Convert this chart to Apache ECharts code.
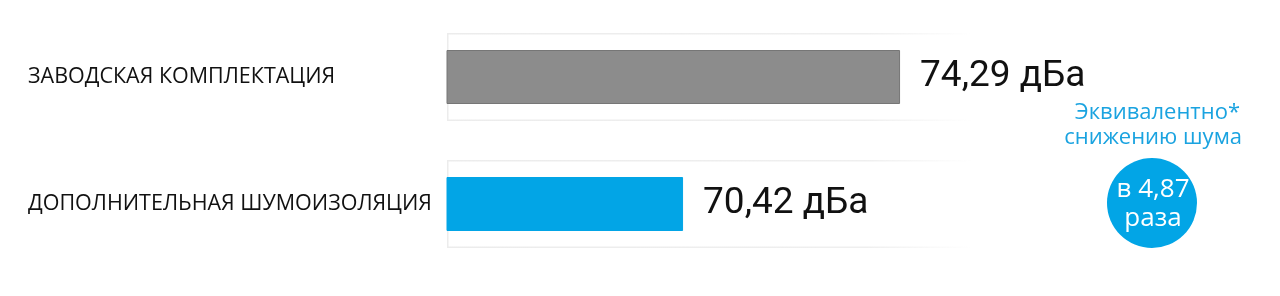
<!DOCTYPE html>
<html>
<head>
<meta charset="utf-8">
<script src="https://cdn.jsdelivr.net/npm/echarts@6/dist/echarts.min.js"></script>
<style>
html,body{margin:0;padding:0;background:#fff;}
#c{width:1280px;height:296px;}
</style>
</head>
<body>
<div id="c"></div>
<script>
const categories = ['ЗАВОДСКАЯ КОМПЛЕКТАЦИЯ', 'ДОПОЛНИТЕЛЬНАЯ ШУМОИЗОЛЯЦИЯ'];
const values = [74.29, 70.42];
const valueLabels = ['74,29 дБа', '70,42 дБа'];
const barColors = ['#8c8c8c', '#02a5e6'];
const noteLines = ['Эквивалентно*', 'снижению шума'];
const ratioLines = ['в 4,87', 'раза'];

const chart = echarts.init(document.getElementById('c'), null, {renderer: 'canvas'});
const bgGrad = new echarts.graphic.LinearGradient(0, 0, 1, 0, [
  {offset: 0, color: '#ececec'}, {offset: 0.8, color: '#efefef'}, {offset: 1, color: 'rgba(240,240,240,0)'}
]);
chart.setOption({
  animation: false,
  grid: {left: 447, width: 525, top: 13.5, height: 254},
  xAxis: [
    {type: 'value', min: 66.21, max: 75.573, show: false},
    {type: 'value', min: 0, max: 1, show: false}
  ],
  yAxis: [
    {
      type: 'category', data: categories, inverse: true,
      axisLine: {show: false}, axisTick: {show: false}, splitLine: {show: false},
      axisLabel: {align: 'left', margin: 419, fontFamily: 'Open Sans', fontSize: 21.5, color: '#111', padding: [0, 0, 6, 0]}
    },
    {type: 'category', data: categories, inverse: true, show: false}
  ],
  series: [
    {
      type: 'bar', xAxisIndex: 1, yAxisIndex: 1, data: categories.map(() => 1), barWidth: 88,
      itemStyle: {color: '#fff', borderColor: bgGrad, borderWidth: 1.5},
      silent: true, z: 1
    },
    {
      type: 'bar', xAxisIndex: 0, yAxisIndex: 0, barWidth: 54,
      data: values.map((v, i) => ({value: v, itemStyle: {color: barColors[i], borderColor: i === 0 ? '#767676' : barColors[i], borderWidth: 1}})),
      label: {
        show: true, position: 'right', distance: 20,
        formatter: p => valueLabels[p.dataIndex],
        fontFamily: 'Roboto', fontSize: 37, color: '#111'
      },
      z: 3
    }
  ],
  graphic: [
    {type: 'text', x: 1240, y: 113, style: {text: noteLines[0], fill: '#1aa3e0', font: '22px "Open Sans"', align: 'right', verticalAlign: 'middle'}},
    {type: 'text', x: 1242, y: 138, style: {text: noteLines[1], fill: '#1aa3e0', font: '22px "Open Sans"', align: 'right', verticalAlign: 'middle'}},
    {type: 'circle', shape: {cx: 1152, cy: 203, r: 45}, style: {fill: '#02a5e6'}},
    {type: 'text', x: 1153, y: 204, style: {text: ratioLines.join('\n'), fill: '#fff', font: '26px "Open Sans"', align: 'center', verticalAlign: 'middle', lineHeight: 29}}
  ]
});
</script>
</body>
</html>
